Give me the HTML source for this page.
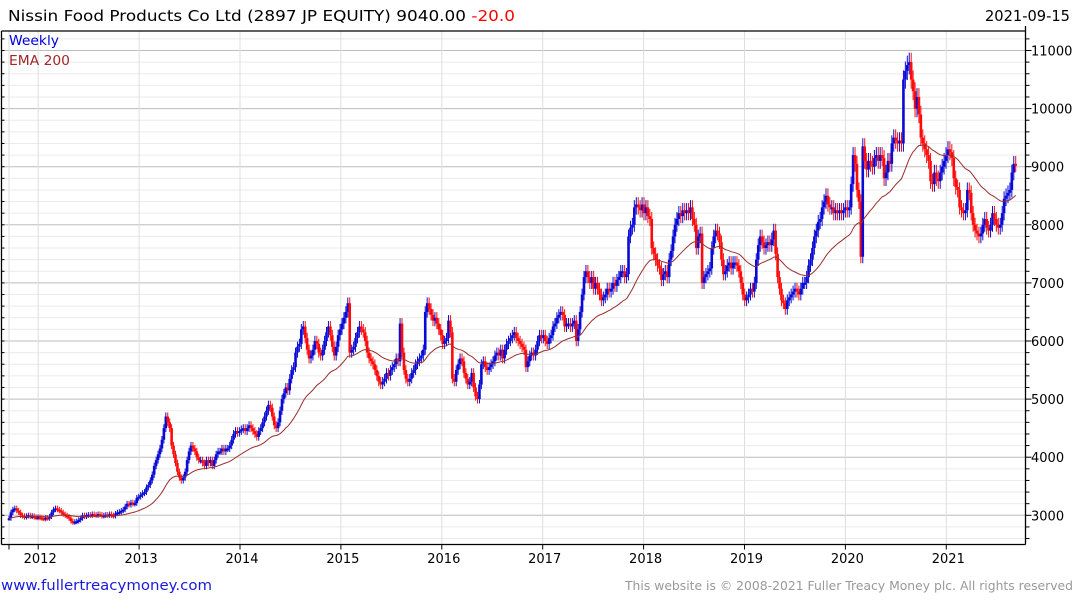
<!DOCTYPE html>
<html><head><meta charset="utf-8">
<style>
html,body{margin:0;padding:0;background:#fff;}
svg{display:block;font-family:"DejaVu Sans","Liberation Sans",sans-serif;}
</style></head>
<body>
<svg id="chart" width="1075" height="600" viewBox="0 0 1075 600" xmlns="http://www.w3.org/2000/svg">
<g id="grid"></g>
<g id="bars"></g>
<g id="ema"></g>
<g id="axes"></g>
<text x="8" y="21" font-size="15" fill="#000" textLength="507" lengthAdjust="spacingAndGlyphs">Nissin Food Products Co Ltd (2897 JP EQUITY) 9040.00 <tspan fill="#ff0000">-20.0</tspan></text>
<text x="985" y="21" font-size="15" fill="#000" textLength="85" lengthAdjust="spacingAndGlyphs">2021-09-15</text>
<text x="9" y="45" font-size="13" fill="#0000dd" textLength="50" lengthAdjust="spacingAndGlyphs">Weekly</text>
<text x="9" y="65" font-size="13" fill="#a02828" textLength="61" lengthAdjust="spacingAndGlyphs">EMA 200</text>
<text x="1" y="590" font-size="14" fill="#1a1adb" textLength="211" lengthAdjust="spacingAndGlyphs">www.fullertreacymoney.com</text>
<text x="625" y="590" font-size="12.5" fill="#999" textLength="448" lengthAdjust="spacingAndGlyphs">This website is © 2008-2021 Fuller Treacy Money plc. All rights reserved</text>
</svg>
<script>
const closes = [
2950,3050,3100,3120,3080, 3050,3000,2990,2970,2990, 3000,2980,2990,2970,2960,
2970,2960,2950,2940,2960, 2950,2980,3050,3100,3120, 3100,3080,3050,3020,3000,
2980,2950,2900,2880,2890, 2900,2920,2950,3000,2980, 3000,3010,3000,3020,3010,
3000,3020,3010,2990,3000, 3010,3000,3020,3000,2990, 3030,3050,3060,3080,3100,
3150,3200,3180,3220,3200, 3210,3300,3320,3350,3380, 3400,3480,3520,3600,3700,
3850,3950,4050,4150,4300, 4500,4700,4600,4500,4200, 4050,3900,3750,3650,3600,
3650,3750,3950,4100,4200, 4150,4100,4000,3950,3950, 3900,3850,3950,3900,3950,
3850,3950,4050,4100,4100, 4150,4100,4150,4150,4200, 4300,4400,4450,4420,4450,
4480,4500,4450,4500,4550, 4500,4450,4400,4350,4450, 4500,4600,4700,4800,4900,
4850,4700,4550,4500,4600, 4800,5000,5100,5200,5150, 5350,5500,5550,5800,5900,
5950,6200,6250,6050,5850, 5700,5750,5850,6000,5950, 5800,5750,5850,6000,6150,
6250,6100,5900,5750,5900, 6100,6200,6300,6400,6500, 6650,5800,5850,5900,6050,
6150,6250,6200,6150,6000, 5800,5700,5650,5600,5500, 5400,5300,5250,5300,5350,
5450,5400,5500,5550,5600, 5700,5650,6300,5800,5500, 5350,5300,5350,5450,5500,
5600,5650,5700,5750,5850, 6500,6650,6550,6450,6350, 6400,6300,6200,6100,5950,
6000,6050,6350,6150,5350, 5300,5500,5600,5700,5650, 5450,5350,5250,5300,5450,
5200,5050,5000,5250,5600, 5650,5550,5500,5550,5600, 5650,5750,5800,5750,5850,
5700,5850,5950,6000,6050, 6100,6150,6050,6000,5950, 5900,5850,5550,5650,5750,
5800,5750,5850,6000,6100, 6050,6100,6000,5950,6050, 6100,6250,6300,6400,6450,
6500,6450,6250,6300,6300, 6250,6300,6350,6000,6200, 6500,6800,7100,7200,7100,
7000,7100,6900,7000,6900, 6800,6700,6750,6800,6900, 6850,6900,7000,6950,7050,
7100,7200,7200,7100,7150, 7800,7950,8000,8300,8350, 8300,8250,8350,8200,8300,
8150,8100,7600,7500,7400, 7300,7250,7050,7150,7200, 7100,7400,7550,7800,8000,
8100,8200,8150,8250,8200, 8250,8200,8300,8100,8000, 7600,7800,7850,7000,7100,
7150,7200,7250,7600,7800, 7900,7850,7700,7400,7150, 7200,7300,7350,7250,7350,
7350,7300,7200,7000,6800, 6700,6750,6800,6900,6850, 7000,7400,7650,7800,7700,
7600,7650,7700,7650,7750, 7900,7500,7100,6900,6700, 6650,6550,6700,6750,6800,
6850,6900,6850,6800,6900, 7000,7000,7100,7300,7400, 7600,7800,7900,8050,8100,
8300,8400,8500,8350,8300, 8300,8200,8250,8200,8250, 8200,8250,8300,8250,8300,
8700,9200,9050,8600,8400, 7450,9350,9100,8950,9100, 9050,9000,9150,9200,9100,
9200,9150,8800,8900,9100, 9050,9400,9500,9450,9400, 9450,9400,10500,10650,10750,
10800,10500,10300,10000,10200, 9900,9500,9400,9300,9200, 9100,8750,8700,8900,8800,
8750,8900,9000,9100,9200, 9300,9250,9150,8800,8650, 8600,8300,8250,8200,8250,
8600,8550,8200,8000,7900, 7850,7800,7850,8000,8100, 7950,7900,8000,8200,8100,
8000,7950,8000,8200,8450, 8500,8550,8600,8900,9050, 9040
];
const yearLabels = ["2012","2013","2014","2015","2016","2017","2018","2019","2020","2021"];
const priceTicks = [3000,4000,5000,6000,7000,8000,9000,10000,11000];
const emaPeriod = 40;

const NS = "http://www.w3.org/2000/svg";
const plotL = 1.5, plotR = 1025.5, plotT = 31, plotB = 544.5;
const x0 = 9, dx = 1.936;
const yearX0 = 38.2, yearDX = 100.9;
function xOf(i){ return x0 + i*dx; }
function yOf(p){ return 515.3 - (p-3000)*0.0581; }
function yearX(k){ return yearX0 + k*yearDX; }
function mk(tag, attrs, parent){ const e=document.createElementNS(NS,tag); for(const k in attrs) e.setAttribute(k,attrs[k]); parent.appendChild(e); return e; }

const grid = document.getElementById('grid');
const axes = document.getElementById('axes');
for(let p=2600;p<=11200;p+=200){
  const y=yOf(p); const major = p%1000===0;
  const l = mk('line',{x1:plotL,x2:plotR,y1:y,y2:y,stroke:major?'#bdbdbd':'#ebebeb','stroke-width':1},grid);
  
  
  const t = mk('line',{x1:plotR,x2:plotR+(major?6:4),y1:y,y2:y,stroke:'#000','stroke-width':1},axes);
  
  
  const lt = mk('line',{x1:plotL,x2:plotL+3,y1:y,y2:y,stroke:'#000','stroke-width':1},axes);
  
  
}
const vxs=[x0]; yearLabels.forEach((_,k)=>vxs.push(yearX(k)));
vxs.forEach(x=>{
  const l=mk('line',{x1:x,x2:x,y1:plotT,y2:plotB,stroke:'#dedede','stroke-width':1},grid);
  
  
  const t=mk('line',{x1:x,x2:x,y1:plotB,y2:plotB+5,stroke:'#000','stroke-width':1},axes);
  
  
});
yearLabels.forEach((lab,k)=>{
  const t=mk('text',{x:yearX(k)+2,y:563,'font-size':13,'text-anchor':'middle',fill:'#000'},axes);
  t.textContent=lab;
  
  
});
priceTicks.forEach(p=>{
  const t=mk('text',{x:1031,y:yOf(p)+5,'font-size':13,fill:'#000'},axes);
  t.textContent=p;
  
  
});
[[plotL,plotT,plotR,plotT],[plotL,plotT,plotL,plotB],[plotR,plotT-5,plotR,plotB],[plotL,plotB,plotR,plotB]].forEach(a=>{
  const l=mk('line',{x1:a[0],y1:a[1],x2:a[2],y2:a[3],stroke:'#000','stroke-width':1.3},axes);
  
  
});

const bars=document.getElementById('bars');
closes.forEach((c,i)=>{
  const o = i>0 ? closes[i-1] : c;
  const up = c>=o;
  const col = up ? '#0a0ad6' : '#ff0a0a';
  const x = xOf(i);
  const hi = Math.max(o,c)*1.015, lo = Math.min(o,c)*0.985;
  const w = mk('line',{x1:x,x2:x,y1:yOf(hi),y2:yOf(lo),stroke:col,'stroke-width':1},bars);
  
  
  const top=yOf(Math.max(o,c)), bot=yOf(Math.min(o,c));
  const b = mk('rect',{x:x-1.3,y:top,width:2.6,height:Math.max(2,bot-top),fill:col},bars);
  
  
});
const a = 2/(emaPeriod+1);
let e = closes[0]; const pts=[];
closes.forEach((c,i)=>{ e = i===0? c : e + a*(c-e); pts.push(xOf(i).toFixed(1)+','+yOf(e).toFixed(1)); });
const pl = mk('polyline',{points:pts.join(' '),fill:'none',stroke:'#9b2d2d','stroke-width':1},document.getElementById('ema'));


</script>
</body></html>
